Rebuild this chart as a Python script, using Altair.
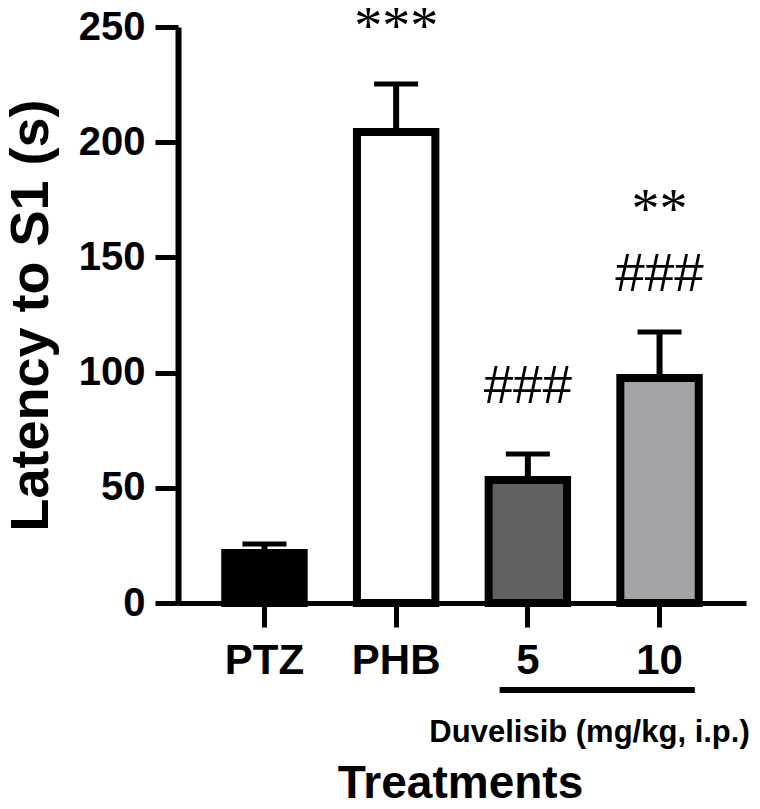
import altair as alt
import pandas as pd

# ---- data ----
groups = ["PTZ", "PHB", "5", "10"]
means = [21.7, 204.4, 53.4, 97.7]
uppers = [25.6, 225.3, 64.7, 117.6]

star_groups = ["PHB", "10"]
star_texts = ["***", "**"]
star_levels = [242.2, 162.8]

hash_groups = ["10", "5"]
hash_texts = ["###", "###"]
hash_levels = [135.4, 86.8]

bracket_start = ["5"]
bracket_end = ["10"]
bracket_level = [-37.8]
caption_group = ["10"]
caption_text = ["Duvelisib (mg/kg, i.p.)"]
caption_level = [-60.3]

y_ticks = [0, 50, 100, 150, 200, 250]
fills = ["#000000", "#ffffff", "#616161", "#a3a2a7"]

df = pd.DataFrame({"group": groups, "mean": means, "upper": uppers})
stars = pd.DataFrame({"group": star_groups, "txt": star_texts, "level": star_levels})
hashes = pd.DataFrame({"group": hash_groups, "txt": hash_texts, "level": hash_levels})
bracket = pd.DataFrame({"start": bracket_start, "end": bracket_end, "level": bracket_level})
caption = pd.DataFrame({"group": caption_group, "txt": caption_text, "level": caption_level})

FONT = "Liberation Sans"
X_TITLE = "Treatments"
Y_TITLE = "Latency to S1 (s)"

xscale = alt.Scale(domain=groups, paddingInner=0.4046, paddingOuter=0.3588)
yscale = alt.Scale(domain=[0, 250], nice=False, zero=True)

xaxis = alt.Axis(
    labelAngle=0, tickSize=24, tickWidth=5, tickColor="black",
    domainWidth=5, domainColor="black",
    labelFont=FONT, labelFontSize=42, labelFontWeight="bold", labelColor="black",
    labelBaseline="alphabetic", labelPadding=46,
    titleFont=FONT, titleFontSize=46, titleFontWeight="bold", titleColor="black",
    titleX=282, titleY=194, titleBaseline="alphabetic", titleAlign="center",
    grid=False,
)
yaxis = alt.Axis(
    values=y_ticks, tickSize=23, tickWidth=5, tickColor="black",
    domainWidth=6, domainColor="black",
    labelFont=FONT, labelFontSize=40, labelFontWeight="bold", labelColor="black",
    labelPadding=10, labelFlush=False, labelOverlap=False,
    titleFont=FONT, titleFontSize=54, titleFontWeight="bold", titleColor="black",
    titleX=-131, titleY=288, titleAngle=270, titleBaseline="alphabetic", titleAlign="center",
    grid=False,
)


def X(field, **kw):
    return alt.X(field, type="nominal", sort=groups, scale=xscale, axis=xaxis, title=X_TITLE, **kw)


def Y(field):
    return alt.Y(field, type="quantitative", scale=yscale, axis=yaxis, title=Y_TITLE)


base = alt.Chart(df)

bars = base.mark_bar(stroke="black", strokeWidth=8, strokeJoin="miter").encode(
    x=X("group"),
    y=Y("mean"),
    color=alt.Color("group:N", scale=alt.Scale(domain=groups, range=fills), legend=None),
)

stems = base.mark_rule(color="black", strokeWidth=6).encode(
    x=X("group"), y=Y("mean"), y2=alt.Y2("upper")
)

caps = base.mark_tick(color="black", thickness=5, size=44, orient="horizontal", opacity=1).encode(
    x=X("group"), y=Y("upper")
)

star_layer = alt.Chart(stars).mark_text(
    font="Liberation Serif", fontSize=56, baseline="alphabetic", align="center", color="black"
).encode(x=X("group"), y=Y("level"), text="txt:N")

hash_layer = alt.Chart(hashes).mark_text(
    font=FONT, fontSize=53, baseline="alphabetic", align="center", color="black"
).encode(x=X("group"), y=Y("level"), text="txt:N")

bracket_layer = alt.Chart(bracket).mark_rule(color="black", strokeWidth=6, strokeCap="butt").encode(
    x=X("start", bandPosition=0.14),
    x2=alt.X2("end", bandPosition=0.95),
    y=Y("level"),
)

caption_layer = alt.Chart(caption).mark_text(
    font=FONT, fontSize=31, fontWeight="bold", baseline="alphabetic", align="center",
    color="black", dx=-70
).encode(x=X("group"), y=Y("level"), text="txt:N")

chart = alt.layer(
    bars, stems, caps, star_layer, hash_layer, bracket_layer, caption_layer
).properties(
    width=568, height=576,
    padding={"left": 170, "top": 19, "right": 6, "bottom": 206},
    autosize=alt.AutoSizeParams(type="none"),
    background="white",
).configure_view(strokeWidth=0)

chart.save("out.html", embed_options={"renderer": "svg", "actions": False})
